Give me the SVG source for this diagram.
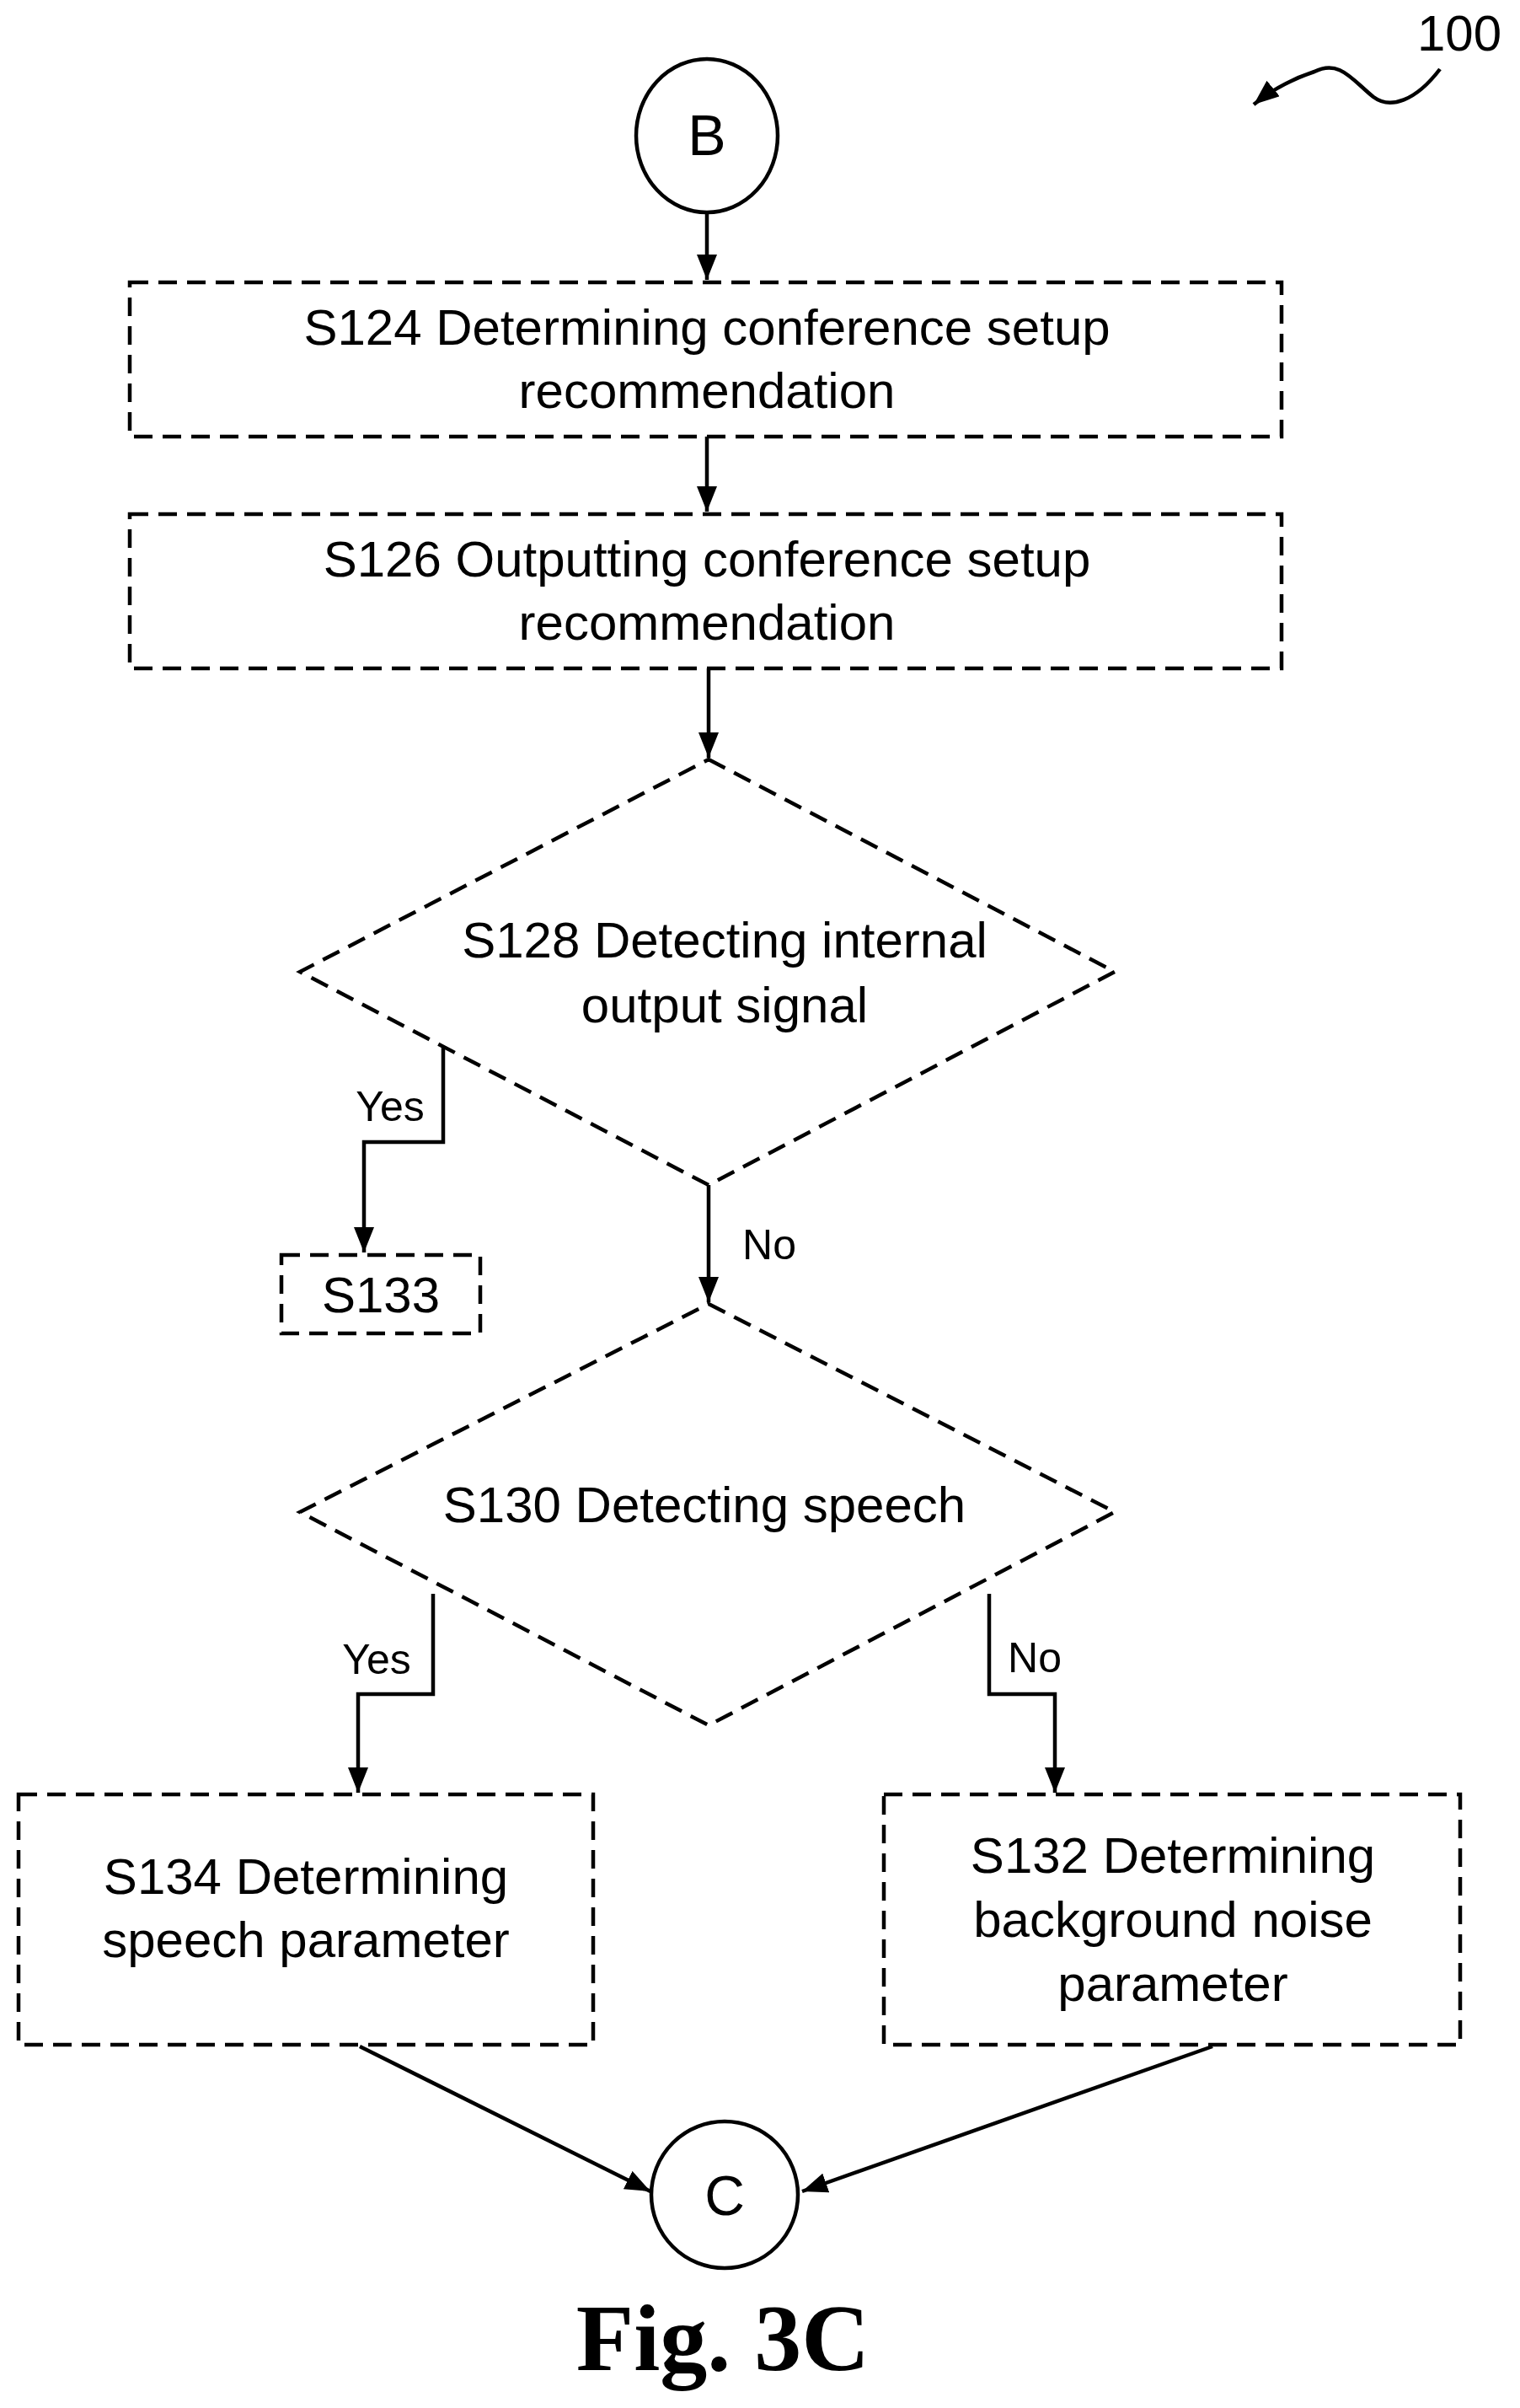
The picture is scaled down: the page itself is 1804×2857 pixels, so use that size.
<svg xmlns="http://www.w3.org/2000/svg" width="1804" height="2857" viewBox="0 0 1804 2857">
<style>
.box{fill:none;stroke:#000;stroke-width:4.5;stroke-dasharray:22 12}
.circ{fill:#fff;stroke:#000;stroke-width:4.5}
.ln{fill:none;stroke:#000;stroke-width:4.5}
text{font-family:"Liberation Sans",Arial,sans-serif;font-size:60px;text-anchor:middle;fill:#000}
.lbl{font-size:50px}
</style>
<defs>
<marker id="a" viewBox="0 0 30 24" refX="30" refY="12" markerWidth="30" markerHeight="24" orient="auto" markerUnits="userSpaceOnUse"><path d="M0,0 L30,12 L0,24 Z" fill="#000"/></marker>
</defs>
<g id="connectors">
<line class="ln" x1="839" y1="253" x2="839" y2="332" marker-end="url(#a)"/>
<line class="ln" x1="839" y1="518" x2="839" y2="607" marker-end="url(#a)"/>
<line class="ln" x1="841" y1="793" x2="841" y2="899" marker-end="url(#a)"/>
<polyline class="ln" points="526,1241 526,1355 432,1355 432,1486" marker-end="url(#a)"/>
<line class="ln" x1="841" y1="1406" x2="841" y2="1545" marker-end="url(#a)"/>
<polyline class="ln" points="514,1891 514,2010 425,2010 425,2127" marker-end="url(#a)"/>
<polyline class="ln" points="1174,1891 1174,2010 1252,2010 1252,2127" marker-end="url(#a)"/>
<line class="ln" x1="427" y1="2428" x2="772" y2="2600" marker-end="url(#a)"/>
<line class="ln" x1="1439" y1="2428" x2="952" y2="2600" marker-end="url(#a)"/>
<path class="ln" d="M1709,82 C1680,120 1650,130 1630,115 C1605,95 1590,70 1560,85 C1530,95 1505,110 1488,124" marker-end="url(#a)"/>
<text class="lbl" x="463" y="1330">Yes</text>
<text class="lbl" x="913" y="1494">No</text>
<text class="lbl" x="447" y="1986">Yes</text>
<text class="lbl" x="1228" y="1984">No</text>
</g>
<g id="ref100"><text x="1732" y="60">100</text></g>
<g id="B"><ellipse class="circ" cx="839" cy="161" rx="84" ry="91"/><text x="839" y="184" style="font-size:68px">B</text></g>
<g id="S124"><rect class="box" x="154" y="335" width="1367" height="183"/><text x="839" y="409">S124 Determining conference setup</text><text x="839" y="484">recommendation</text></g>
<g id="S126"><rect class="box" x="154" y="610" width="1367" height="183"/><text x="839" y="684">S126 Outputting conference setup</text><text x="839" y="759">recommendation</text></g>
<g id="S128"><polygon class="box" points="841,901 1323,1153 841,1406 356,1153"/><text x="860" y="1136">S128 Detecting internal</text><text x="860" y="1213">output signal</text></g>
<g id="S133"><rect class="box" x="334" y="1489" width="236" height="93"/><text x="452" y="1557">S133</text></g>
<g id="S130"><polygon class="box" points="841,1547 1323,1794 841,2047 356,1794"/><text x="836" y="1806">S130 Detecting speech</text></g>
<g id="S134"><rect class="box" x="22" y="2129" width="682" height="297"/><text x="363" y="2247">S134 Determining</text><text x="363" y="2322">speech parameter</text></g>
<g id="S132"><rect class="box" x="1049" y="2129" width="684" height="297"/><text x="1392" y="2222">S132 Determining</text><text x="1392" y="2298">background noise</text><text x="1392" y="2374">parameter</text></g>
<g id="C"><circle class="circ" cx="860" cy="2604" r="87"/><text x="860" y="2628" style="font-size:66px">C</text></g>
<g id="caption"><text x="858" y="2812" style="font-family:'Liberation Serif','Times New Roman',serif;font-weight:bold;font-size:112px">Fig. 3C</text></g>
</svg>
